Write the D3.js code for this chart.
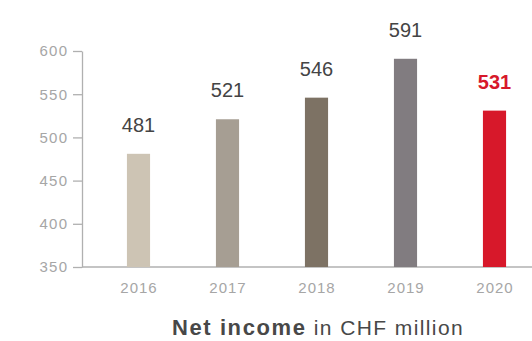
<!DOCTYPE html>
<html>
<head>
<meta charset="utf-8">
<script src="https://cdn.jsdelivr.net/npm/d3@7.8.5/dist/d3.min.js"></script>
<style>
  html, body { margin: 0; padding: 0; background: #fff; }
  svg { display: block; font-family: "Liberation Sans", Arial, Helvetica, sans-serif; }
</style>
</head>
<body>
<svg id="chart" width="532" height="341"></svg>
<script>
// Net income, CHF million
const years = ['2016', '2017', '2018', '2019', '2020'];
const netIncome = [481, 521, 546, 591, 531];
const barColors = ['#cdc4b4', '#a69e93', '#7d7264', '#817c80', '#d7182a'];
const yTicks = [350, 400, 450, 500, 550, 600];

const svg = d3.select('#chart');
const W = 532;

const x = d3.scaleBand()
    .domain(years)
    .range([94, 539])
    .paddingInner(0.74)
    .paddingOuter(0.37);

const y = d3.scaleLinear()
    .domain([350, 600])
    .range([267, 51]);

const axisColor = '#b0b0b0';
const tickText = '#a6a6a6';

// y axis
const yAxis = svg.append('g')
    .attr('transform', 'translate(82,0)')
    .call(d3.axisLeft(y).tickValues(yTicks).tickSize(9).tickSizeOuter(0).tickPadding(6));
yAxis.select('.domain').attr('stroke', axisColor).attr('stroke-width', 1.3);
yAxis.selectAll('.tick line').attr('stroke', axisColor).attr('stroke-width', 1.3);
yAxis.selectAll('.tick text')
    .attr('fill', tickText)
    .style('font-size', '15px')
    .style('letter-spacing', '1.2px')
    .attr('dx', '1.2px')
    .style('font-family', '"Liberation Sans", Arial, sans-serif');

// baseline
svg.append('line')
    .attr('x1', 82).attr('x2', W)
    .attr('y1', y(350)).attr('y2', y(350))
    .attr('stroke', axisColor)
    .attr('stroke-width', 1.3);

// x axis labels
const xAxis = svg.append('g')
    .attr('transform', `translate(0,${y(350)})`)
    .call(d3.axisBottom(x).tickSize(0).tickPadding(15));
xAxis.select('.domain').remove();
xAxis.selectAll('.tick text')
    .attr('fill', tickText)
    .style('font-size', '15px')
    .style('letter-spacing', '1px')
    .attr('dx', '0.5px')
    .style('font-family', '"Liberation Sans", Arial, sans-serif');

// bars
const data = years.map((yr, i) => ({ year: yr, value: netIncome[i], color: barColors[i] }));
svg.append('g')
    .selectAll('rect')
    .data(data)
    .enter()
    .append('rect')
    .attr('x', d => x(d.year))
    .attr('width', x.bandwidth())
    .attr('y', d => y(d.value))
    .attr('height', d => y(350) - y(d.value))
    .attr('fill', d => d.color);

// value labels
const last = years[years.length - 1];
svg.append('g')
    .selectAll('text')
    .data(data)
    .enter()
    .append('text')
    .attr('x', d => x(d.year) + x.bandwidth() / 2)
    .attr('y', d => y(d.value) - 22)
    .attr('text-anchor', 'middle')
    .style('font-size', '20px')
    .style('font-weight', d => d.year === last ? 'bold' : 'normal')
    .attr('fill', d => d.year === last ? '#d7182a' : '#444444')
    .text(d => d.value);

// title
const title = svg.append('text')
    .attr('x', 318)
    .attr('y', 335)
    .attr('text-anchor', 'middle')
    .attr('fill', '#484848')
    .style('font-size', '21px')
    .style('letter-spacing', '1.4px');
title.append('tspan').style('font-weight', 'bold').style('font-size', '22px').style('letter-spacing', '1.6px').text('Net income');
title.append('tspan').text(' in CHF million');
</script>
</body>
</html>
